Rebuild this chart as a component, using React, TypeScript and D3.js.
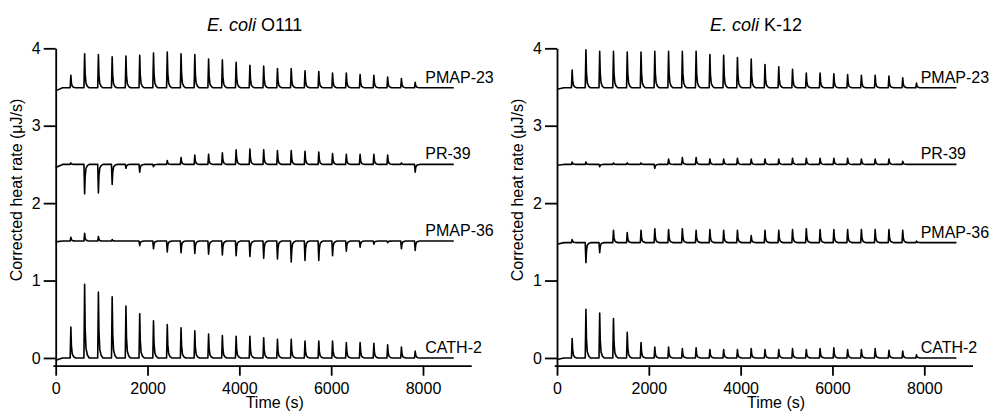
import React, { useEffect, useRef } from 'react';
import * as d3 from 'd3';

// injection peak times (s), same schedule in both runs
const INJECTION_TIMES = [330, 630, 930, 1230, 1530, 1830, 2130, 2430, 2730, 3030, 3330, 3630, 3930, 4230,
  4530, 4830, 5130, 5430, 5730, 6030, 6330, 6630, 6930, 7230, 7530, 7830];

const PEPTIDES = ['PMAP-23', 'PR-39', 'PMAP-36', 'CATH-2'];
const STRAINS = ['O111', 'K-12'];

// offset baselines (µJ/s) and the value each trace starts from at t = 0
const O111_BASELINES = [3.49, 2.5, 1.51, 0.0];
const O111_START = [3.45, 2.46, 1.5, -0.03];
const K12_BASELINES = [3.49, 2.5, 1.49, 0.0];
const K12_START = [3.47, 2.49, 1.47, -0.02];

// peak deflection from baseline for each injection
const O111_PMAP23 = [0.16, 0.44, 0.43, 0.4, 0.41, 0.42, 0.45, 0.46, 0.44, 0.43, 0.37, 0.36, 0.33, 0.29, 0.28, 0.25, 0.25, 0.22, 0.21, 0.19, 0.19, 0.17, 0.16, 0.14, 0.12, 0.07];
const O111_PR39 = [0.02, -0.38, -0.37, -0.26, -0.05, -0.1, -0.03, 0.05, 0.09, 0.12, 0.13, 0.15, 0.19, 0.2, 0.19, 0.18, 0.18, 0.17, 0.16, 0.14, 0.13, 0.13, 0.13, 0.12, 0.02, -0.1];
const O111_PMAP36 = [0.05, 0.1, 0.06, 0.02, 0.0, -0.06, -0.1, -0.14, -0.15, -0.16, -0.17, -0.18, -0.19, -0.2, -0.22, -0.23, -0.27, -0.25, -0.25, -0.19, -0.13, -0.08, -0.04, -0.02, -0.1, -0.12];
const O111_CATH2 = [0.4, 0.95, 0.85, 0.79, 0.67, 0.57, 0.48, 0.43, 0.39, 0.35, 0.31, 0.29, 0.28, 0.28, 0.26, 0.24, 0.24, 0.22, 0.22, 0.22, 0.2, 0.2, 0.19, 0.17, 0.14, 0.09];

const K12_PMAP23 = [0.23, 0.49, 0.47, 0.47, 0.46, 0.46, 0.47, 0.47, 0.47, 0.47, 0.43, 0.42, 0.39, 0.37, 0.3, 0.27, 0.24, 0.19, 0.19, 0.18, 0.17, 0.16, 0.16, 0.15, 0.13, 0.06];
const K12_PR39 = [0.03, 0.03, -0.03, 0.02, 0.02, 0.02, -0.05, 0.07, 0.09, 0.09, 0.07, 0.07, 0.08, 0.07, 0.07, 0.07, 0.08, 0.08, 0.08, 0.08, 0.08, 0.07, 0.07, 0.07, 0.04, 0.0];
const K12_PMAP36 = [0.04, -0.26, -0.13, 0.16, 0.13, 0.16, 0.18, 0.17, 0.18, 0.16, 0.17, 0.16, 0.16, 0.09, 0.16, 0.16, 0.17, 0.18, 0.17, 0.17, 0.17, 0.17, 0.17, 0.17, 0.16, 0.02];
const K12_CATH2 = [0.25, 0.63, 0.58, 0.51, 0.33, 0.2, 0.14, 0.14, 0.12, 0.13, 0.11, 0.11, 0.11, 0.12, 0.11, 0.11, 0.12, 0.11, 0.12, 0.13, 0.11, 0.11, 0.12, 0.1, 0.09, 0.04];

const TRACE_END = [8670, 8700];
const LABEL_TIME = [8050, 7920];
const X_TICKS = [0, 2000, 4000, 6000, 8000];
const Y_TICKS = [0, 1, 2, 3, 4];

// profile of one injection peak: [seconds from peak, fraction of peak height]
const SPIKE_SHAPE: [number, number][] = [[-15, 0], [0, 1], [12, 0.4], [30, 0.13], [60, 0.04], [100, 0]];

const runs = [
  { strain: STRAINS[0], base: O111_BASELINES, start: O111_START, peaks: [O111_PMAP23, O111_PR39, O111_PMAP36, O111_CATH2] },
  { strain: STRAINS[1], base: K12_BASELINES, start: K12_START, peaks: [K12_PMAP23, K12_PR39, K12_PMAP36, K12_CATH2] },
];

const FONT = '"Liberation Sans", Arial, sans-serif';

function tracePoints(base: number, start: number, peaks: number[], end: number): [number, number][] {
  const pts: [number, number][] = [[0, start], [150, base]];
  INJECTION_TIMES.forEach((t, i) => {
    SPIKE_SHAPE.forEach(([dt, f]) => pts.push([t + dt, base + f * peaks[i]]));
  });
  pts.push([end, base]);
  return pts;
}

export default function App() {
  const svgRef = useRef<SVGSVGElement>(null);

  useEffect(() => {
    const svg = d3.select(svgRef.current);
    svg.selectAll('*').remove();

    const origins = [55.7, 557];
    const pxPerSec = 367.3 / 8000;

    runs.forEach((run, p) => {
      const x0 = origins[p];
      const x = d3.scaleLinear().domain([-60, 9050]).range([x0 - 60 * pxPerSec, x0 + 9050 * pxPerSec]);
      const y = d3.scaleLinear().domain([-0.1, 4]).range([365.7, 48.3]);
      const g = svg.append('g');

      const line = d3.line<[number, number]>().x((d) => x(d[0])).y((d) => y(d[1]));

      run.peaks.forEach((pk, i) => {
        g.append('path')
          .datum(tracePoints(run.base[i], run.start[i], pk, TRACE_END[p]))
          .attr('fill', 'none')
          .attr('stroke', '#000')
          .attr('stroke-width', 1.6)
          .attr('stroke-linejoin', 'round')
          .attr('d', line);
        g.append('text')
          .attr('x', x(LABEL_TIME[p]))
          .attr('y', y(run.base[i]) - 5)
          .attr('font-family', FONT)
          .attr('font-size', 16)
          .text(PEPTIDES[i]);
      });

      const yAxis = g.append('g')
        .attr('transform', `translate(${x0},0)`)
        .call(d3.axisLeft(y).tickValues(Y_TICKS).tickSize(12).tickPadding(3).tickSizeOuter(0).tickFormat(d3.format('d')));
      const xAxis = g.append('g')
        .attr('transform', `translate(0,${y(-0.1)})`)
        .call(d3.axisBottom(x).tickValues(X_TICKS).tickSize(10).tickPadding(7).tickSizeOuter(0).tickFormat(d3.format('d')));
      [yAxis, xAxis].forEach((ax) => {
        ax.selectAll('path, line').attr('stroke', '#000').attr('stroke-width', 1.8);
        ax.selectAll('text').attr('font-family', FONT).attr('font-size', 16).attr('fill', '#000');
      });

      // axis titles
      g.append('text')
        .attr('transform', `translate(${x0 - 34},${190}) rotate(-90)`)
        .attr('text-anchor', 'middle')
        .attr('font-family', FONT)
        .attr('font-size', 16)
        .text('Corrected heat rate (\u03bcJ/s)');
      g.append('text')
        .attr('x', x0 + 219)
        .attr('y', 408)
        .attr('text-anchor', 'middle')
        .attr('font-family', FONT)
        .attr('font-size', 16)
        .text('Time (s)');

      const title = g.append('text')
        .attr('x', x0 + 199)
        .attr('y', 31)
        .attr('text-anchor', 'middle')
        .attr('font-family', FONT)
        .attr('font-size', 18);
      title.append('tspan').attr('font-style', 'italic').text('E. coli');
      title.append('tspan').text(` ${run.strain}`);
    });
  }, []);

  return (
    <svg
      ref={svgRef}
      width={994}
      height={417}
      style={{ position: 'absolute', left: 0, top: 0, background: '#fff' }}
    />
  );
}
